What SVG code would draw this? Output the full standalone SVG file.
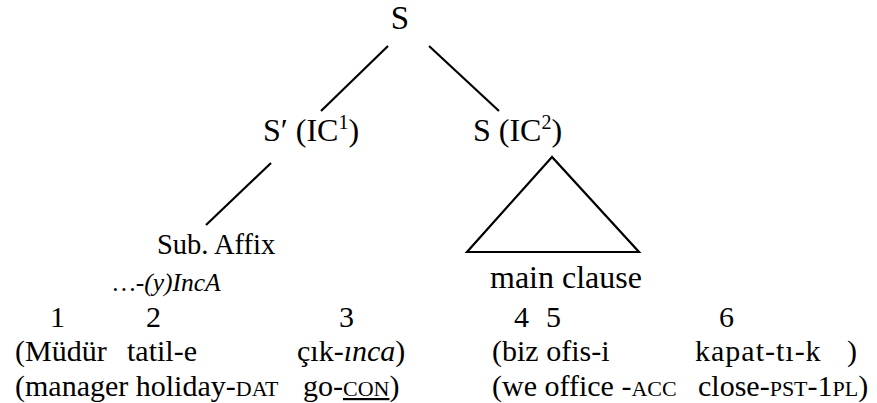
<svg xmlns="http://www.w3.org/2000/svg" width="877" height="403" viewBox="0 0 877 403" font-family="Liberation Serif">
<style>
.sc{font-size:22px}
.sup{font-size:20px}
.it{font-style:italic}
.ln{stroke:#000;stroke-width:2.2;fill:none}
</style>
<rect width="877" height="403" fill="#fff"/>
<g id="connectors">
<line class="ln" x1="388" y1="46" x2="321" y2="111"/>
<line class="ln" x1="429" y1="46" x2="499" y2="111"/>
<line class="ln" x1="271" y1="163" x2="206" y2="225"/>
</g>
<g id="n-S" font-family="Liberation Serif" font-size="33"><text x="400" y="29" text-anchor="middle">S</text></g>
<g id="n-IC1" font-family="Liberation Serif" font-size="32"><text x="263" y="141">S′ (IC<tspan class="sup" dy="-12">1</tspan><tspan dy="12">)</tspan></text></g>
<g id="n-IC2" font-family="Liberation Serif" font-size="32"><text x="473" y="141">S (IC<tspan class="sup" dy="-12">2</tspan><tspan dy="12">)</tspan></text></g>
<g id="n-sub" font-family="Liberation Serif"><text x="157" y="254" font-size="28.5">Sub. Affix</text>
<text class="it" x="113" y="291" font-size="25.5">…-(y)IncA</text></g>
<g id="n-main" font-family="Liberation Serif"><polygon class="ln" points="552,157 467,252 639,252"/>
<text x="490" y="288" font-size="32">main clause</text></g>
<g id="glosses" font-family="Liberation Serif" font-size="30">
<text x="50" y="327">1</text>
<text x="146" y="327">2</text>
<text x="339" y="327">3</text>
<text x="514" y="327">4</text>
<text x="546" y="327">5</text>
<text x="719" y="327">6</text>
<text x="15" y="361">(Müdür</text>
<text x="127" y="361">tatil-e</text>
<text x="297" y="361">çık-<tspan class="it">ınca</tspan>)</text>
<text x="492" y="361">(biz ofis-i</text>
<text x="695" y="361" letter-spacing="1">kapat-tı-k<tspan x="847" letter-spacing="0">)</tspan></text>
<text x="15" y="396">(manager holiday-<tspan class="sc">DAT</tspan></text>
<text x="303" y="396">go-<tspan class="sc" text-decoration="underline">CON</tspan>)</text>
<text x="492" y="396">(we office -<tspan class="sc">ACC</tspan></text>
<text x="698" y="396">close-<tspan class="sc">PST</tspan>-1<tspan class="sc">PL</tspan>)</text>
</g>
</svg>
